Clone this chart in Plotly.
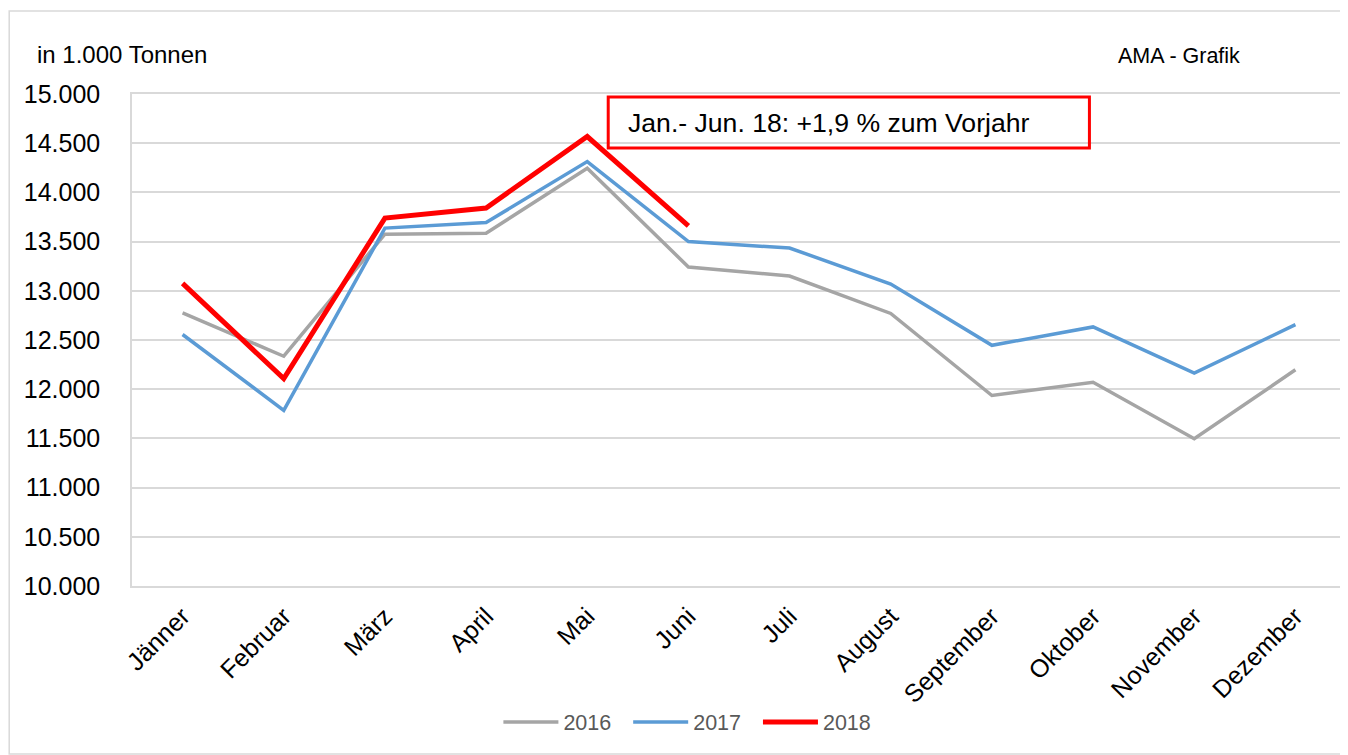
import plotly.graph_objects as go

# Monatsdaten in 1.000 Tonnen
months = ['Jänner', 'Februar', 'März', 'April', 'Mai', 'Juni', 'Juli',
          'August', 'September', 'Oktober', 'November', 'Dezember']
y2016 = [12776, 12335, 13575, 13586, 14245, 13242, 13150, 12770, 11936, 12071, 11497, 12197]
y2017 = [12556, 11785, 13637, 13694, 14313, 13500, 13435, 13068, 12446, 12633, 12163, 12656]
y2018 = [13075, 12108, 13739, 13841, 14568, 13660]

W, H = 1348, 755
OFF = 8  # body margin of the page
L, R, T, B = 132, 0, 94, 169
pw, ph = W - L - R, H - T - B


def px(x):
    return (x - L) / pw


def py(y):
    return (H - B - y) / ph


font = 'Liberation Sans, Arial, sans-serif'
grid = '#d9d9d9'
pad = '\u00a0\u00a0'  # etwas mehr Abstand zwischen den Legendeneinträgen

fig = go.Figure()
fig.add_trace(go.Scatter(x=months, y=y2016, mode='lines', name='2016' + pad,
                         line=dict(color='#a5a5a5', width=3.5)))
fig.add_trace(go.Scatter(x=months, y=y2017, mode='lines', name='2017' + pad,
                         line=dict(color='#5b9bd5', width=3.5)))
fig.add_trace(go.Scatter(x=months[:len(y2018)], y=y2018, mode='lines', name='2018',
                         line=dict(color='#ff0000', width=5)))

# äußerer Rahmen
fig.add_shape(type='rect', xref='paper', yref='paper',
              x0=px(9), x1=px(1347), y0=py(754), y1=py(11),
              line=dict(color=grid, width=1.5), layer='below')

# Kommentar-Box
fig.add_shape(type='rect', xref='paper', yref='paper',
              x0=px(609), x1=px(1091), y0=py(148), y1=py(97),
              line=dict(color='#ff0000', width=3))
fig.add_annotation(x=px(627), y=py(123), xref='paper', yref='paper',
                   xanchor='left', yanchor='middle', showarrow=False,
                   text='Jan.- Jun. 18: +1,9 % zum Vorjahr',
                   font=dict(family=font, size=26.6, color='black'))

fig.add_annotation(x=px(35), y=py(55), xref='paper', yref='paper',
                   xanchor='left', yanchor='middle', showarrow=False,
                   text='in 1.000 Tonnen', font=dict(family=font, size=24, color='black'))
fig.add_annotation(x=px(1118), y=py(56), xref='paper', yref='paper',
                   xanchor='left', yanchor='middle', showarrow=False,
                   text='AMA - Grafik', font=dict(family=font, size=21.5, color='black'))

fig.update_layout(
    width=W - OFF, height=H - OFF,
    margin=dict(l=L - OFF, r=R, t=T - OFF, b=B),
    plot_bgcolor='white', paper_bgcolor='white',
    separators=',.',
    showlegend=True,
    legend=dict(orientation='h', x=px(499), y=py(722), xanchor='left', yanchor='middle',
                font=dict(family=font, size=21.5, color='#595959'),
                itemwidth=55, tracegroupgap=0),
    xaxis=dict(tickangle=-45, tickfont=dict(family=font, size=25, color='black'),
               range=[-0.5, len(months) - 0.5],
               showgrid=False, showline=True, linecolor=grid, linewidth=1.5, mirror=True,
               ticks='', ticklabelstandoff=4),
    yaxis=dict(range=[10000, 15000], dtick=500, tickformat=',.0f',
               tickfont=dict(family=font, size=25, color='black'),
               showgrid=True, gridcolor=grid, gridwidth=1.5,
               showline=True, linecolor=grid, linewidth=1.5, mirror=True,
               ticks='', ticklabelstandoff=25, zeroline=False),
)

fig.write_html('out.html')
